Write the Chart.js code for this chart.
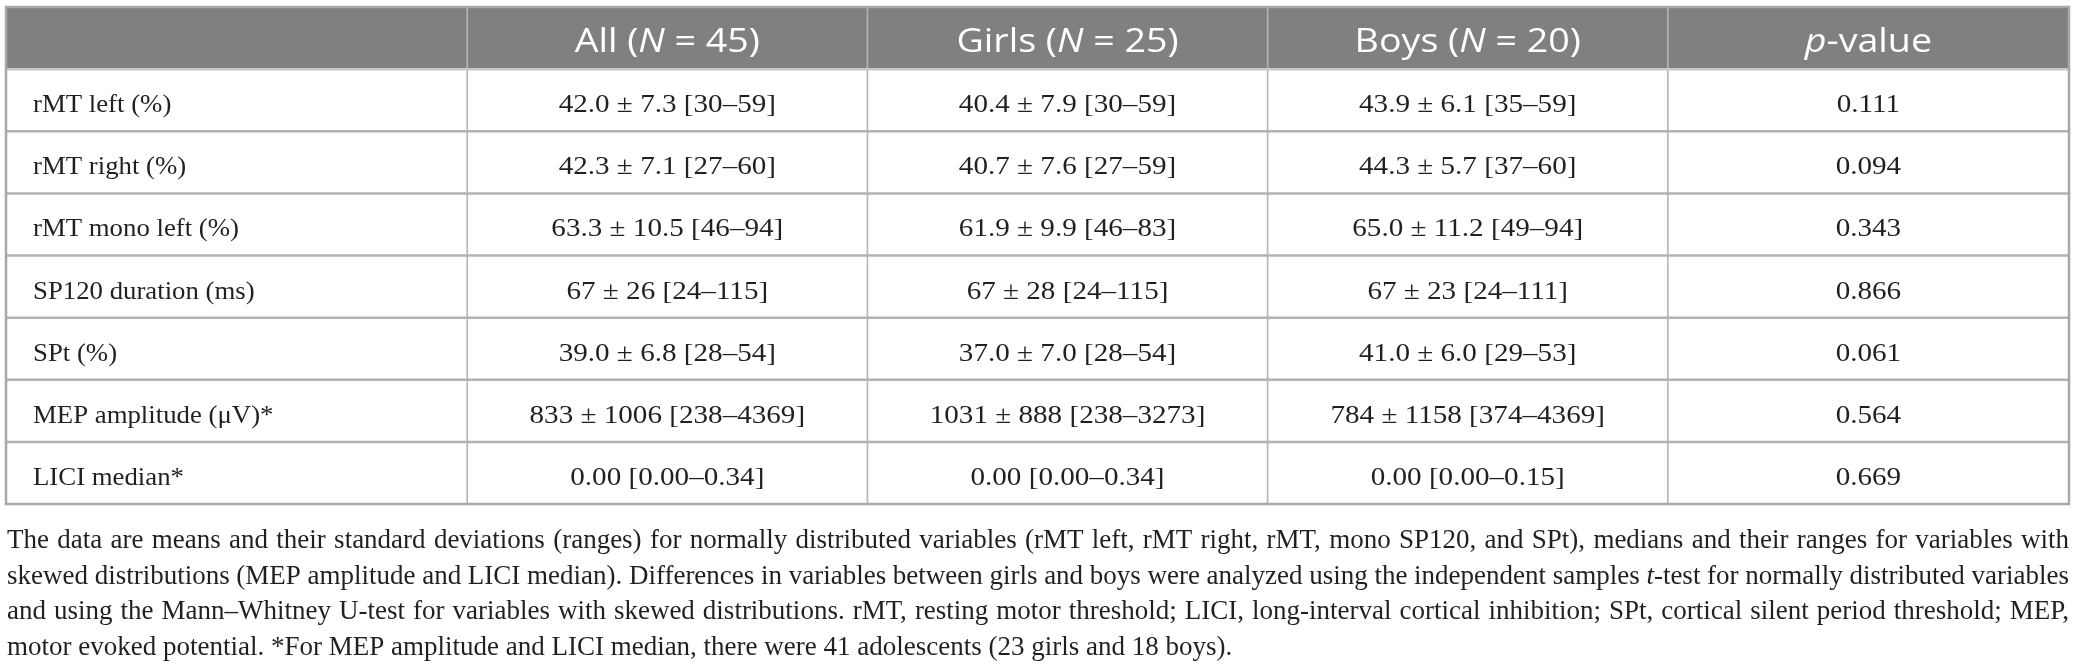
<!DOCTYPE html>
<html><head><meta charset="utf-8">
<script src="https://cdn.jsdelivr.net/npm/chart.js@4.4.1/dist/chart.umd.min.js"></script>
<style>html,body{margin:0;padding:0;background:#fff;overflow:hidden;}#wrap{position:relative;width:2076px;height:671px;}</style>
</head><body><div id="wrap"><canvas id="c" width="2076" height="671"></canvas></div>
<script>
// ---- data ----
const columnHeaders = ["", "All (_N_ = 45)", "Girls (_N_ = 25)", "Boys (_N_ = 20)", "_p_-value"];
const rowLabels = ["rMT left (%)", "rMT right (%)", "rMT mono left (%)", "SP120 duration (ms)", "SPt (%)", "MEP amplitude (\u03bcV)*", "LICI median*"];
const allValues = ["42.0 \u00b1 7.3 [30\u201359]", "42.3 \u00b1 7.1 [27\u201360]", "63.3 \u00b1 10.5 [46\u201394]", "67 \u00b1 26 [24\u2013115]", "39.0 \u00b1 6.8 [28\u201354]", "833 \u00b1 1006 [238\u20134369]", "0.00 [0.00\u20130.34]"];
const girlsValues = ["40.4 \u00b1 7.9 [30\u201359]", "40.7 \u00b1 7.6 [27\u201359]", "61.9 \u00b1 9.9 [46\u201383]", "67 \u00b1 28 [24\u2013115]", "37.0 \u00b1 7.0 [28\u201354]", "1031 \u00b1 888 [238\u20133273]", "0.00 [0.00\u20130.34]"];
const boysValues = ["43.9 \u00b1 6.1 [35\u201359]", "44.3 \u00b1 5.7 [37\u201360]", "65.0 \u00b1 11.2 [49\u201394]", "67 \u00b1 23 [24\u2013111]", "41.0 \u00b1 6.0 [29\u201353]", "784 \u00b1 1158 [374\u20134369]", "0.00 [0.00\u20130.15]"];
const pValues = ["0.111", "0.094", "0.343", "0.866", "0.061", "0.564", "0.669"];
const footnoteLines = [
  "The data are means and their standard deviations (ranges) for normally distributed variables (rMT left, rMT right, rMT, mono SP120, and SPt), medians and their ranges for variables with",
  "skewed distributions (MEP amplitude and LICI median). Differences in variables between girls and boys were analyzed using the independent samples _t_-test for normally distributed variables",
  "and using the Mann\u2013Whitney U-test for variables with skewed distributions. rMT, resting motor threshold; LICI, long-interval cortical inhibition; SPt, cortical silent period threshold; MEP,",
  "motor evoked potential. *For MEP amplitude and LICI median, there were 41 adolescents (23 girls and 18 boys)."
];

// ---- layout (not data) ----
const colWeights = [1.1525, 1, 1, 1, 1.0025];
const HEAD_FONT = '"Open Sans", sans-serif';
const BODY_FONT = '"Liberation Serif", "Times New Roman", serif';

function segs(text){ return text.split('_').map((t,i)=>({t, it: i%2===1})); }
function richWidth(ctx, text, size, fam){
  let w=0; for(const s of segs(text)){ ctx.font=(s.it?'italic ':'')+size+'px '+fam; w+=ctx.measureText(s.t).width; } return w;
}
function drawRich(ctx, text, x, y, size, fam, hs){
  hs = hs || 1;
  ctx.save(); ctx.translate(x, y); ctx.scale(hs, 1);
  let cx = 0;
  for(const s of segs(text)){ ctx.font=(s.it?'italic ':'')+size+'px '+fam; ctx.fillText(s.t, cx, 0); cx+=ctx.measureText(s.t).width; }
  ctx.restore();
  return x + cx*hs;
}

const tablePlugin = {
  id: 'tablePlugin',
  beforeDraw(chart){ const c=chart.ctx; c.save(); c.fillStyle='#fff'; c.fillRect(0,0,chart.width,chart.height); c.restore(); },
  afterDraw(chart){
    const ctx=chart.ctx, xs=chart.scales.x, ys=chart.scales.y;
    const edges=[0]; colWeights.forEach(w=>edges.push(edges[edges.length-1]+w));
    const xe=edges.map(v=>xs.getPixelForValue(v));
    const nRows=rowLabels.length+1;
    const ye=[]; for(let i=0;i<=nRows;i++) ye.push(ys.getPixelForValue(i));
    const L=xe[0], R=xe[xe.length-1], T=ye[0], B=ye[nRows];
    ctx.save();
    ctx.fillStyle='#808080';
    ctx.fillRect(L, T, R-L, ye[1]-T);
    const line=(a,b,c,d,col,w)=>{ctx.strokeStyle=col;ctx.lineWidth=w;ctx.beginPath();ctx.moveTo(a,b);ctx.lineTo(c,d);ctx.stroke();};
    for(let j=1;j<xe.length-1;j++) line(xe[j], T, xe[j], B, '#b5b5b5', 1.6);
    for(let i=1;i<nRows;i++) line(L, ye[i], R, ye[i], i===1?'#c8c8c8':'#b3b3b3', 2.5);
    ctx.strokeStyle='#a8a8a8'; ctx.lineWidth=2.5; ctx.strokeRect(L, T, R-L, B-T);
    // header
    ctx.fillStyle='#ffffff'; ctx.textBaseline='alphabetic';
    const hsz=33, hstretch=1.14;
    columnHeaders.forEach((h,j)=>{
      if(!h) return;
      const w=richWidth(ctx,h,hsz,HEAD_FONT)*hstretch;
      const cx=(xe[j]+xe[j+1])/2;
      drawRich(ctx,h,cx-w/2,(T+ye[1])/2+14,hsz,HEAD_FONT,hstretch);
    });
    // body
    const cols=[rowLabels, allValues, girlsValues, boysValues, pValues];
    const bs=26, labelStretch=1.03, valueStretch=1.12;
    ctx.fillStyle='#231f20';
    for(let i=0;i<rowLabels.length;i++){
      const cy=(ye[i+1]+ye[i+2])/2+12;
      cols.forEach((col,j)=>{
        const txt=col[i];
        if(j===0){ drawRich(ctx,txt,xe[0]+27,cy,bs,BODY_FONT,labelStretch); }
        else { const w=richWidth(ctx,txt,bs,BODY_FONT)*valueStretch; drawRich(ctx,txt,(xe[j]+xe[j+1])/2-w/2,cy,bs,BODY_FONT,valueStretch); }
      });
    }
    // footnote (justified)
    let fs=27;
    const fx0=L+1, fx1=R;
    const W=fx1-fx0;
    for(;fs>18;fs-=0.5){
      let ok=true;
      for(let k=0;k<footnoteLines.length-1;k++){
        const words=footnoteLines[k].split(' ');
        const sum=words.reduce((a,wd)=>a+richWidth(ctx,wd,fs,BODY_FONT),0);
        if((W-sum)/(words.length-1) < fs*0.18){ok=false;break;}
      }
      if(ok) break;
    }
    footnoteLines.forEach((ln,k)=>{
      const words=ln.split(' ');
      const widths=words.map(wd=>richWidth(ctx,wd,fs,BODY_FONT));
      const sum=widths.reduce((a,b)=>a+b,0);
      ctx.font=fs+'px '+BODY_FONT;
      const gap = k<footnoteLines.length-1 ? (W-sum)/(words.length-1) : ctx.measureText(' ').width;
      let x=fx0; const y=B+44+k*35.5;
      words.forEach((wd,i)=>{ drawRich(ctx,wd,x,y,fs,BODY_FONT,1); x+=widths[i]+gap; });
    });
    ctx.restore();
  }
};

new Chart(document.getElementById('c'), {
  type: 'scatter',
  data: { datasets: [{ data: [] }] },
  options: {
    responsive: false, animation: false, devicePixelRatio: 1,
    layout: { padding: { left: 6, right: 7, top: 7, bottom: 167 } },
    plugins: { legend: { display: false }, tooltip: { enabled: false } },
    scales: {
      x: { type: 'linear', display: false, min: 0, max: colWeights.reduce((a,b)=>a+b,0) },
      y: { type: 'linear', display: false, min: 0, max: rowLabels.length + 1, reverse: true }
    }
  },
  plugins: [tablePlugin]
});
</script>
</body></html>
